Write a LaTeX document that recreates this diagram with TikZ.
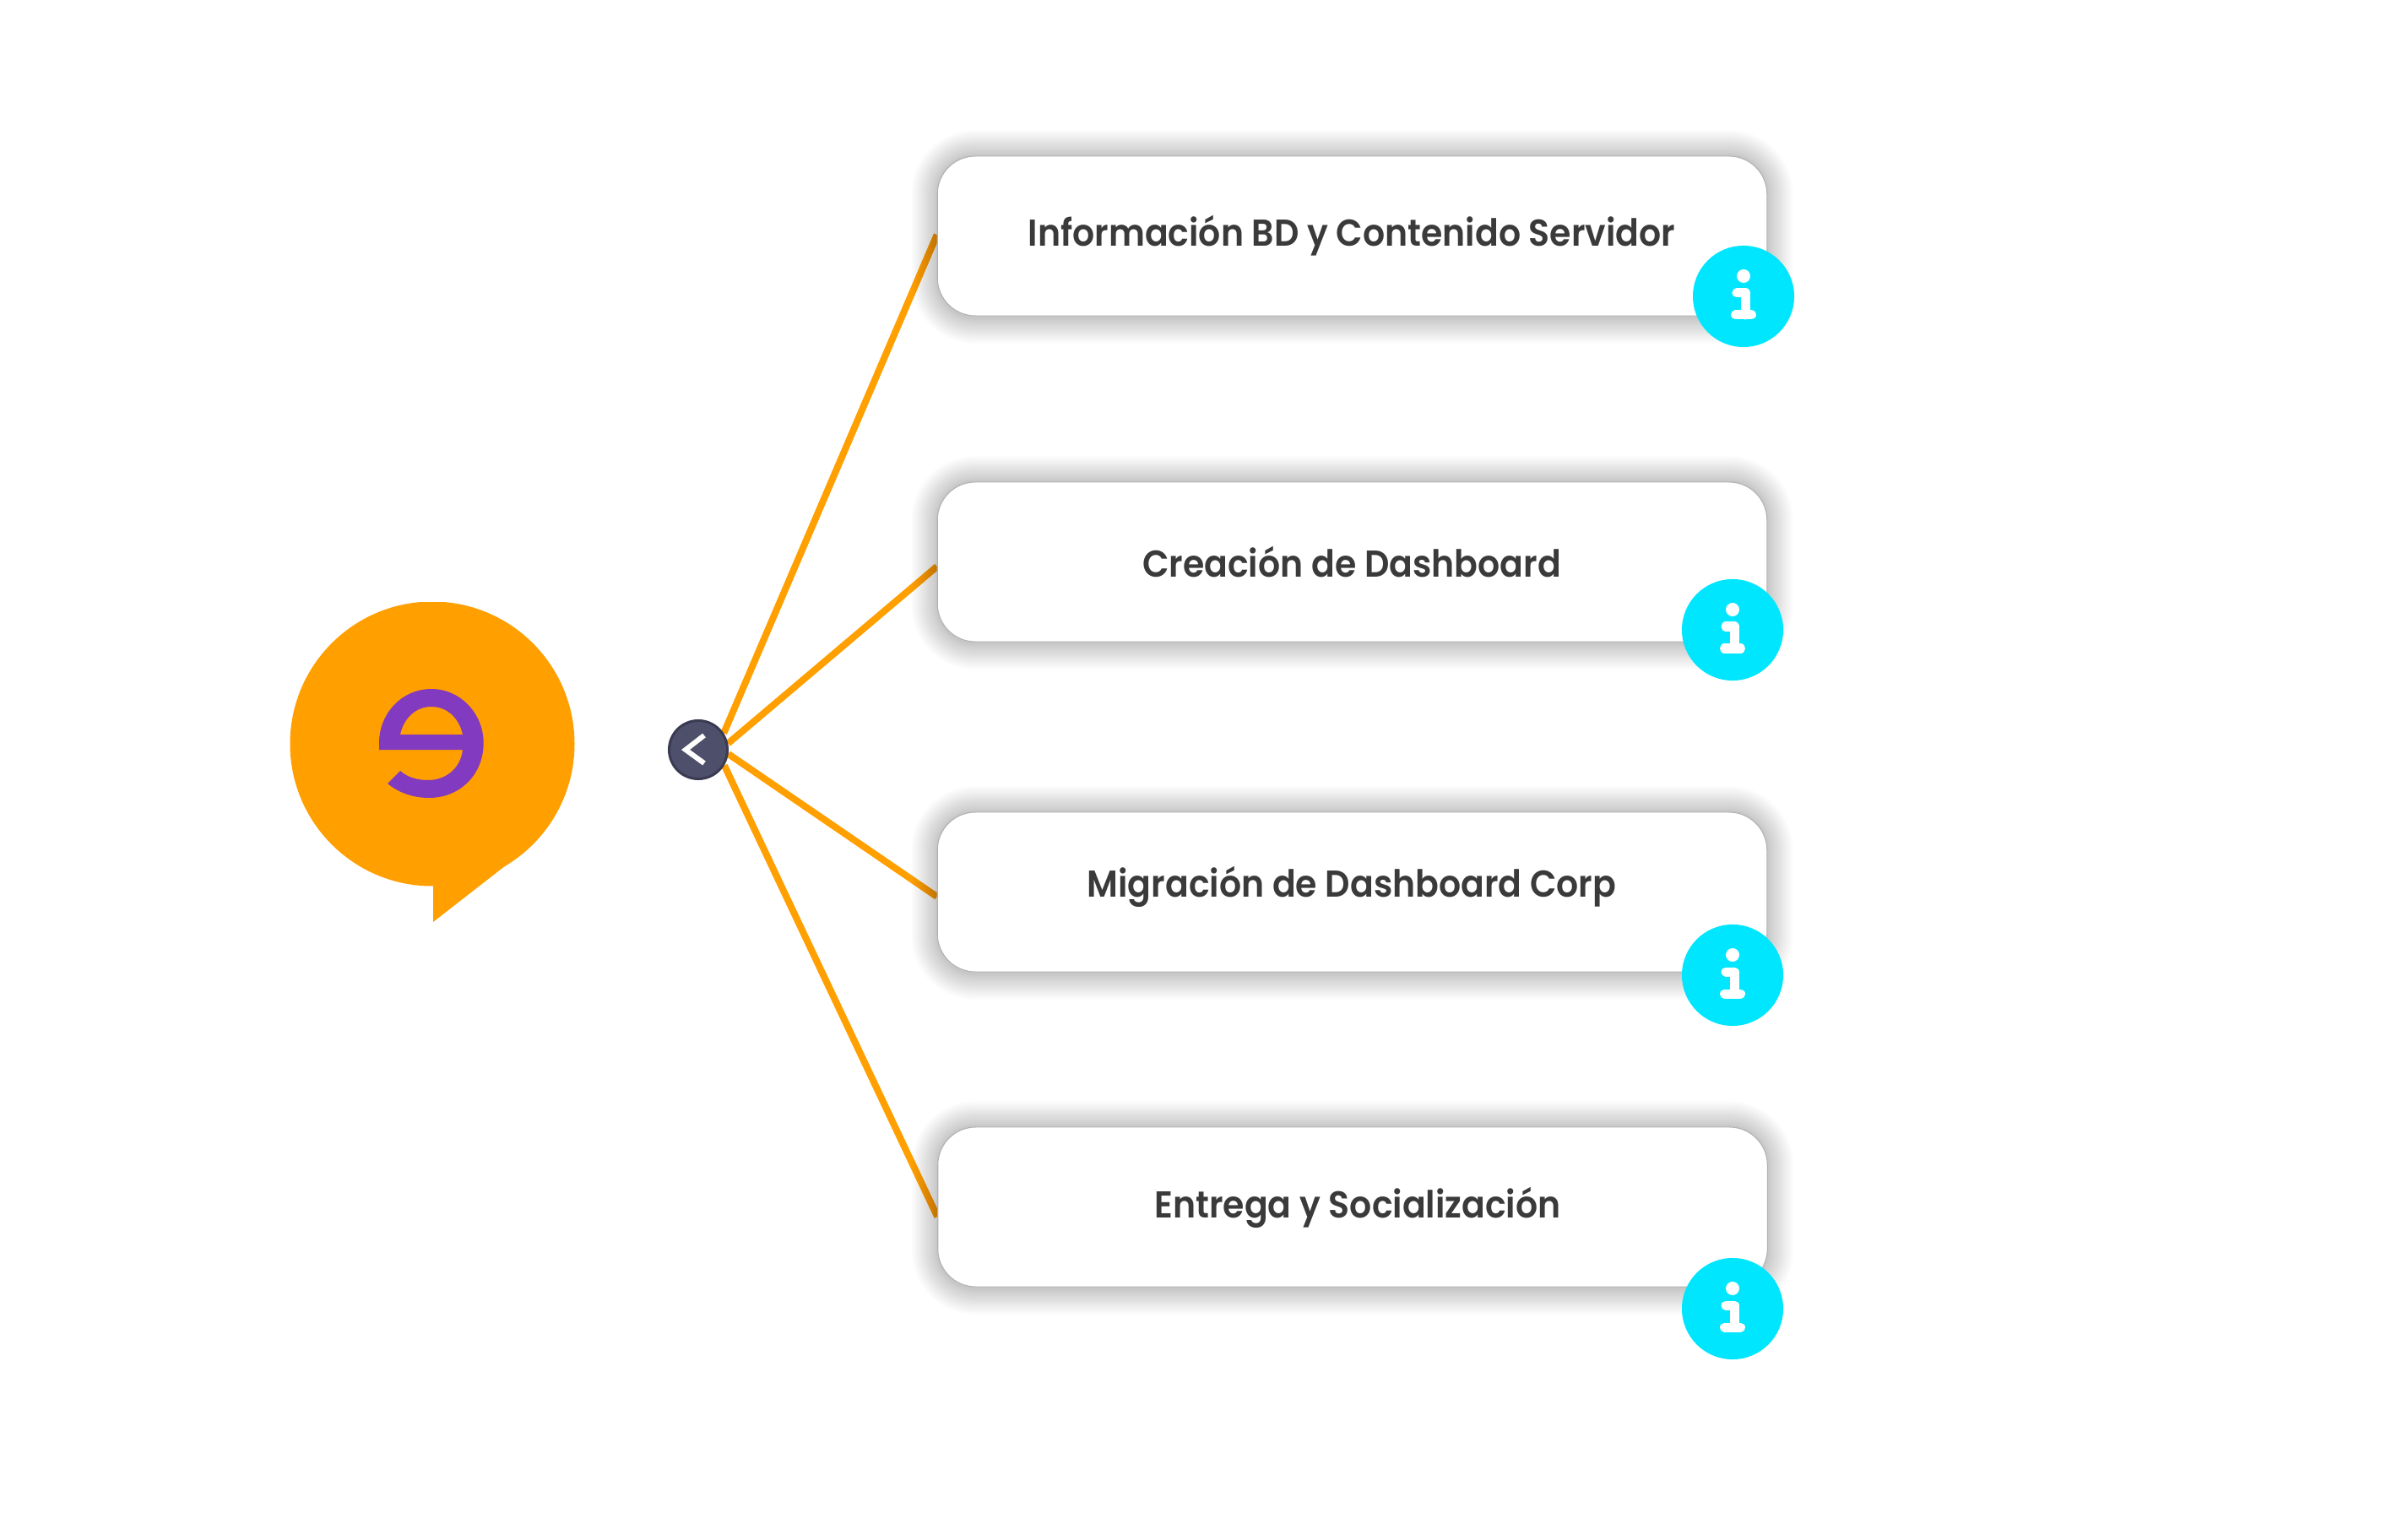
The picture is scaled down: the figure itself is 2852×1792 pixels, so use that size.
\documentclass[tikz,border=0pt]{standalone}
\usepackage{fontspec}
\setmainfont{Poppins}[BoldFont={Poppins SemiBold}, FakeStretch=0.925]
\usetikzlibrary{backgrounds}
\definecolor{bubbleorange}{HTML}{FF9F00}
\definecolor{logopurple}{HTML}{823AC0}
\definecolor{backfill}{HTML}{4D4F6B}
\definecolor{backedge}{HTML}{3A3A52}
\definecolor{infocyan}{HTML}{00E6FF}
\definecolor{cardtextcol}{HTML}{3A3A3A}
\tikzset{
    cardbox/.style={draw=black!30, line width=0.3pt, fill=white, rounded corners=0.45cm,
        minimum width=9.82cm, minimum height=1.89cm, inner sep=0pt},
    cardtext/.style={font=\fontsize{12.6}{15}\selectfont\bfseries, text=cardtextcol, inner sep=0pt},
    infodot/.style={circle, fill=infocyan, minimum size=1.2cm, inner sep=0pt},
    fanline/.style={bubbleorange, line width=0.08cm}
}
\newcommand{\cardshadow}[1]{
    \foreach \i in {1,...,16} {
        \pgfmathsetmacro{\g}{30*(\i/16)^1.3}
        \pgfmathsetmacro{\rad}{(45+\g)*0.01}
        \fill[black, opacity=0.014, rounded corners=\rad cm]
            ([shift={(-\g,-\g)}]#1.north west) rectangle ([shift={(\g,\g+2)}]#1.south east);
    }
}
\newcommand{\infoicon}[1]{
    \fill[white] ([shift={(0,-24)}]#1.center) circle (8);
    \draw[white, line width=0.11cm, line cap=round, line join=round]
        ([shift={(-8,-4)}]#1.center) -- ([shift={(2,-4)}]#1.center) -- ([shift={(2,22)}]#1.center);
    \draw[white, line width=0.11cm, line cap=round]
        ([shift={(-9.5,22)}]#1.center) -- ([shift={(9.5,22)}]#1.center);
}

\begin{document}
\begin{tikzpicture}[x=0.01cm, y=-0.01cm]
    \useasboundingbox (0,0) rectangle (2852,1792);

    % speech bubble
    \begin{scope}
        \clip (300,714) rectangle (720,1110);
        \fill[bubbleorange] (512,881) circle (168.5);
        \fill[bubbleorange] (513,1040) -- (513,1092) -- (608,1018) -- (640,990) -- (560,1000) -- cycle;
    \end{scope}
    \fill[logopurple, even odd rule]
        (449,880) .. controls (449,845) and (476,816) .. (511,816)
        .. controls (545,816) and (572.7,845) .. (572.7,880)
        .. controls (572.7,917) and (545,945) .. (508,945)
        .. controls (490,945) and (472,939) .. (459,928)
        -- (474,913) .. controls (483,921) and (495,924) .. (507,924)
        .. controls (530,924) and (546,908) .. (548,888)
        -- (449,888) -- cycle
        (474,870) .. controls (478,851) and (492,837) .. (511,837)
        .. controls (530,837) and (544,851) .. (548,870) -- cycle;

    % cards
    \node[cardbox] (infobd) at (1601.5,279.5) {};
    \node[cardbox] (creacion) at (1601.5,665.5) {};
    \node[cardbox] (migracion) at (1601.5,1056.5) {};
    \node[cardbox] (entrega) at (1602,1429.5) {};

    \node[cardtext] (infobdtxt) at (1601,279) {Información BD y Contenido Servidor};
    \node[cardtext] (creaciontxt) at (1601,666) {Creación de Dashboard};
    \node[cardtext] (migraciontxt) at (1601,1050) {Migración de Dashboard Corp};
    \node[cardtext] (entregatxt) at (1608,1430) {Entrega y Socialización};

    % back button
    \node[circle, fill=backfill, draw=backedge, line width=0.03cm, minimum size=0.69cm, inner sep=0pt]
        (backbtn) at (827,888) {};
    \draw[white, line width=0.06cm, line join=miter]
        (834,871) -- (812,888) -- (834,904);

    \begin{pgfonlayer}{background}
        \draw[fanline] (backbtn.33) -- ([shift={(0,-1.5)}]infobd.west);
        \draw[fanline] (backbtn.12) -- ([shift={(0,5.5)}]creacion.west);
        \draw[fanline] (backbtn.-8) -- ([shift={(0,5.5)}]migracion.west);
        \draw[fanline] (backbtn.-31) -- ([shift={(0,11.5)}]entrega.west);
        \cardshadow{infobd}
        \cardshadow{creacion}
        \cardshadow{migracion}
        \cardshadow{entrega}
    \end{pgfonlayer}

    % info badges
    \node[infodot] (infoa) at (2065,351) {};
    \node[infodot] (infob) at (2052,746) {};
    \node[infodot] (infoc) at (2052,1155) {};
    \node[infodot] (infod) at (2052,1550) {};
    \infoicon{infoa}
    \infoicon{infob}
    \infoicon{infoc}
    \infoicon{infod}
\end{tikzpicture}
\end{document}
